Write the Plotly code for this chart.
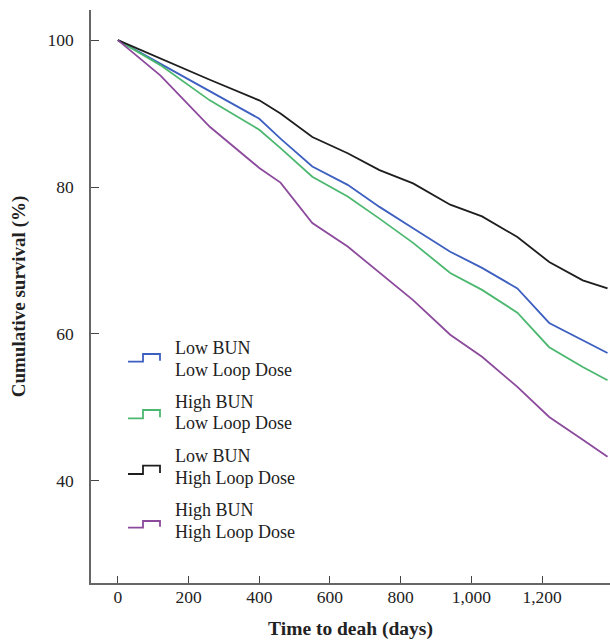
import plotly.graph_objects as go

# Time points (days)
days = [0, 120, 260, 400, 460, 550, 650, 740, 835, 940, 1030, 1130, 1220, 1315, 1385]

# Cumulative survival (%) per group
low_bun_low_loop = [100, 96.8, 93.0, 89.3, 86.6, 82.8, 80.3, 77.3, 74.4, 71.2, 69.0, 66.2, 61.5, 59.2, 57.4]
high_bun_low_loop = [100, 96.6, 91.8, 87.8, 85.3, 81.4, 78.7, 75.7, 72.4, 68.3, 66.0, 62.9, 58.2, 55.5, 53.7]
low_bun_high_loop = [100, 97.5, 94.6, 91.8, 90.0, 86.8, 84.6, 82.3, 80.5, 77.6, 76.0, 73.2, 69.8, 67.3, 66.2]
high_bun_high_loop = [100, 95.2, 88.2, 82.6, 80.6, 75.1, 71.9, 68.3, 64.6, 59.9, 56.9, 52.8, 48.7, 45.6, 43.3]

series_labels = [
    ("Low BUN", "Low Loop Dose"),
    ("High BUN", "Low Loop Dose"),
    ("Low BUN", "High Loop Dose"),
    ("High BUN", "High Loop Dose"),
]
series_values = [low_bun_low_loop, high_bun_low_loop, low_bun_high_loop, high_bun_high_loop]
colors = ["#3d5fc0", "#4cb86f", "#1e1e1e", "#8c4a9c"]

x_ticks = [0, 200, 400, 600, 800, 1000, 1200]
x_tick_text = ["0", "200", "400", "600", "800", "1,000", "1,200"]
y_ticks = [40, 60, 80, 100]

FONT = "Liberation Serif"

fig = go.Figure()
for vals, col, lab in zip(series_values, colors, series_labels):
    fig.add_trace(go.Scatter(
        x=days, y=vals, mode="lines", name=" ".join(lab),
        line=dict(color=col, width=1.8), showlegend=False, hoverinfo="skip",
    ))

W, H = 610, 640
ml, mr, mt, mb = 91, 0, 10, 57
pw, ph = W - ml - mr, H - mt - mb

def px_to_paper(x, y):
    return (x - ml) / pw, 1 - (y - mt) / ph

shapes = []
annotations = []
# legend layout in pixels: first text line centre, icon low / high y
legend_rows = [(348, 361.7, 354), (401.7, 418.3, 410), (456, 474, 465.7), (510, 527.7, 521)]
for (l1, l2), col, (ty0, ylow, yhigh) in zip(series_labels, colors, legend_rows):
    xa, ya = px_to_paper(128, ylow)
    xb, _ = px_to_paper(143, ylow)
    _, yc = px_to_paper(143, yhigh)
    xd, _ = px_to_paper(160, yhigh)
    _, ye = px_to_paper(160, ylow - 1)
    path = f"M {xa},{ya} L {xb},{ya} L {xb},{yc} L {xd},{yc} L {xd},{ye}"
    shapes.append(dict(type="path", xref="paper", yref="paper", path=path,
                       line=dict(color=col, width=1.8)))
    for k, txt in enumerate((l1, l2)):
        tx, ty = px_to_paper(174, ty0 + k * 21.7)
        annotations.append(dict(
            xref="paper", yref="paper", x=tx, y=ty, xanchor="left", yanchor="middle",
            text=txt, showarrow=False, borderpad=0,
            font=dict(family=FONT, size=18, color="#222"),
        ))

fig.update_layout(
    width=W, height=H,
    margin=dict(l=ml, r=mr, t=mt, b=mb),
    plot_bgcolor="white", paper_bgcolor="white",
    font=dict(family=FONT, size=17.5, color="#222"),
    shapes=shapes, annotations=annotations,
    hovermode=False,
    xaxis=dict(
        range=[-76, 1392], tickvals=x_ticks, ticktext=x_tick_text,
        showgrid=False, zeroline=False, showline=True, linecolor="#666", linewidth=1.5,
        ticks="inside", ticklen=7, tickcolor="#444", tickwidth=1,
        ticklabelstandoff=-3, automargin=False,
        title=dict(text="<b>Time to deah (days)</b>", font=dict(family=FONT, size=19.5), standoff=16),
    ),
    yaxis=dict(
        range=[26.1, 104.1], tickvals=y_ticks,
        showgrid=False, zeroline=False, showline=True, linecolor="#666", linewidth=1.5,
        ticks="inside", ticklen=8, tickcolor="#444", tickwidth=1,
        ticklabelstandoff=12, automargin=False,
        title=dict(text="<b>Cumulative survival (%)</b>", font=dict(family=FONT, size=19), standoff=17),
    ),
)

fig.write_html(
    "out.html",
    config={"displayModeBar": False},
    post_script="document.body.style.margin='0';document.body.style.overflow='hidden';",
)
